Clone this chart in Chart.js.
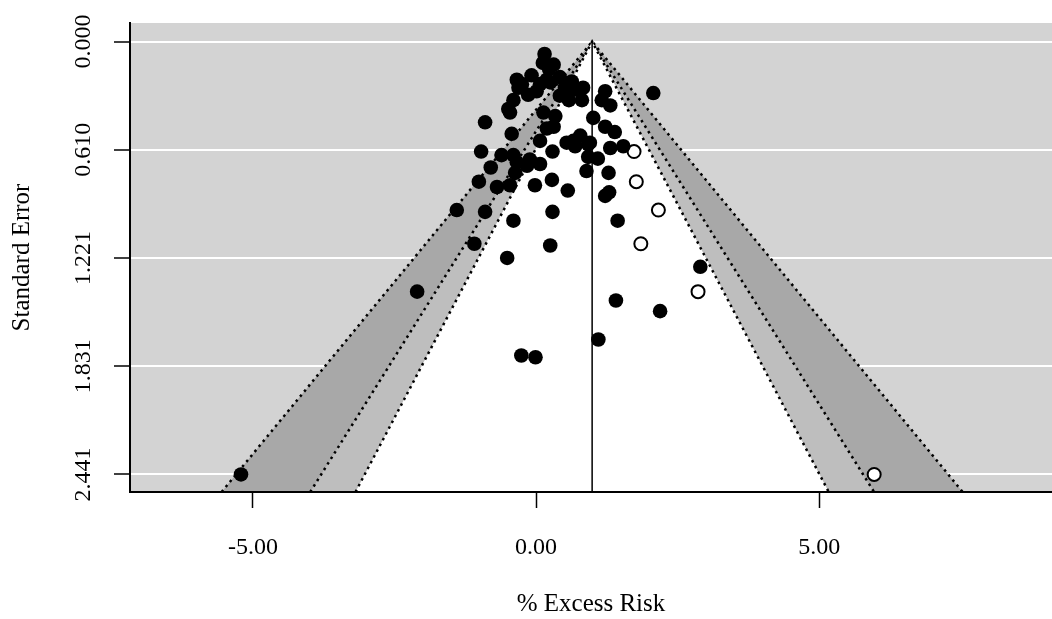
<!DOCTYPE html>
<html>
<head>
<meta charset="utf-8">
<script src="https://cdn.jsdelivr.net/npm/chart.js@4.4.1/dist/chart.umd.min.js"></script>
<style>
  html, body { margin: 0; padding: 0; background: #fff; }
  #wrap { width: 1052px; height: 619px; }
</style>
</head>
<body>
<div id="wrap"><canvas id="funnel" width="1052" height="619"></canvas></div>
<script>
// observed studies: % excess risk and its standard error
const effect = [
  -5.21, -2.10, -1.40, -1.09, -0.90, -0.51, -0.40, 0.29, 0.25, -0.26,
  -0.01, 1.10, 1.41, 2.19, 2.90, 0.56, 1.44, 1.28, 0.89, 1.22,
  1.29, 0.54, 0.95, 1.31, 1.54, 0.92, 1.09, -0.97, -0.61, -0.40,
  -0.80, -1.01, -0.69, -0.46, -0.37, -0.16, 0.07, -0.02, 0.28, 0.29,
  0.69, 0.15, 0.31, 0.42, 0.19, 0.63, 0.83, 0.81, 0.07, 1.22,
  1.16, 1.31, 2.07, 1.01, 1.22, 1.39, 0.31, 0.66, 0.92, 0.07,
  -0.08, -0.34, -0.31, 0.01, 0.25, -0.40, -0.49, -0.46, -0.90, -0.43,
  0.13, 0.34, 0.19, 0.12, 0.23, 0.51, 0.69, -0.25, -0.34, -0.11,
  -0.14, 0.42, 0.58, 0.78
];
const stdErr = [
  2.441, 1.41, 0.95, 1.14, 0.96, 1.22, 1.01, 0.96, 1.15, 1.77,
  1.78, 1.68, 1.46, 1.52, 1.27, 0.84, 1.01, 0.74, 0.73, 0.87,
  0.85, 0.57, 0.57, 0.60, 0.59, 0.65, 0.66, 0.62, 0.64, 0.64,
  0.71, 0.79, 0.82, 0.81, 0.74, 0.70, 0.69, 0.81, 0.78, 0.62,
  0.59, 0.07, 0.13, 0.20, 0.215, 0.225, 0.26, 0.33, 0.24, 0.28,
  0.33, 0.36, 0.29, 0.43, 0.48, 0.51, 0.48, 0.56, 0.58, 0.56,
  0.19, 0.215, 0.26, 0.28, 0.23, 0.33, 0.38, 0.40, 0.455, 0.52,
  0.40, 0.42, 0.49, 0.12, 0.155, 0.26, 0.27, 0.24, 0.68, 0.665,
  0.30, 0.305, 0.33, 0.53
];

// studies imputed by trim and fill
const fillEffect = [5.97, 2.86, 2.16, 1.85, 1.77, 1.73];
const fillSE = [2.441, 1.41, 0.95, 1.14, 0.79, 0.62];

// funnel centre and contour levels (99%, 95%, 90%)
const pooled = 0.99;
const funnelZ = [2.576, 1.96, 1.645];
const funnelShade = ["#a8a8a8", "#bebebe", "#ffffff"];
const seBottom = 2.54;

const xTicks = [-5, 0, 5];
const xTickLabels = ["-5.00", "0.00", "5.00"];
const seTicks = [0, 0.6103, 1.2206, 1.8309, 2.4412];
const seTickLabels = ["0.000", "0.610", "1.221", "1.831", "2.441"];

const serif = "'Liberation Serif', 'Times New Roman', serif";

const datasets = [];

datasets.push({
  data: effect.map((e, i) => ({ x: e, y: stdErr[i] })),
  pointRadius: 7.3,
  pointBackgroundColor: "#000",
  pointBorderColor: "#000",
  pointBorderWidth: 0,
  order: 0
});

datasets.push({
  data: fillEffect.map((e, i) => ({ x: e, y: fillSE[i] })),
  pointRadius: 6.5,
  pointBackgroundColor: "#fff",
  pointBorderColor: "#000",
  pointBorderWidth: 2,
  order: 1
});

// vertical line at the estimate
datasets.push({
  data: [{ x: pooled, y: 0 }, { x: pooled, y: seBottom }],
  showLine: true,
  borderColor: "#000",
  borderWidth: 1.5,
  pointRadius: 0,
  order: 2
});

// shaded funnel regions with dotted edges
funnelZ.forEach((z, i) => {
  const half = z * seBottom;
  datasets.push({
    data: [
      { x: pooled - half, y: seBottom },
      { x: pooled, y: 0 },
      { x: pooled + half, y: seBottom }
    ],
    showLine: true,
    fill: { value: seBottom },
    backgroundColor: funnelShade[i],
    borderColor: "#000",
    borderWidth: 2.5,
    borderDash: [2.5, 4],
    pointRadius: 0,
    tension: 0,
    order: 20 - i
  });
});

const plotBg = {
  id: "plotBg",
  beforeDraw(chart) {
    const { ctx, chartArea: a } = chart;
    ctx.save();
    ctx.fillStyle = "#d3d3d3";
    ctx.fillRect(a.left, a.top, a.right - a.left, a.bottom - a.top);
    ctx.restore();
  }
};

new Chart(document.getElementById("funnel"), {
  type: "scatter",
  data: { datasets },
  plugins: [plotBg],
  options: {
    responsive: false,
    animation: false,
    devicePixelRatio: 1,
    layout: { autoPadding: false, padding: { top: 23, right: 0, left: 0, bottom: 0 } },
    plugins: { legend: { display: false }, tooltip: { enabled: false } },
    scales: {
      x: {
        type: "linear",
        min: -7.17,
        max: 9.11,
        afterBuildTicks: s => { s.ticks = xTicks.map(v => ({ value: v })); },
        afterFit: s => { s.height = 127; },
        grid: { drawOnChartArea: false, tickLength: 16, tickColor: "#000", tickWidth: 1.5 },
        border: { color: "#000", width: 2, z: 1 },
        ticks: {
          color: "#000",
          font: { family: serif, size: 24 },
          padding: 25,
          maxRotation: 0,
          callback: v => xTickLabels[xTicks.indexOf(v)]
        },
        title: {
          display: true,
          text: "% Excess Risk",
          color: "#000",
          font: { family: serif, size: 25 },
          padding: { top: 0, bottom: 0 }
        }
      },
      y: {
        type: "linear",
        reverse: true,
        min: -0.105,
        max: seBottom,
        afterBuildTicks: s => { s.ticks = seTicks.map(v => ({ value: v })); },
        afterFit: s => { s.width = 130; },
        grid: { color: "#fff", lineWidth: 2, tickLength: 16, tickColor: "#000", tickWidth: 1.5 },
        border: { color: "#000", width: 2, z: 1 },
        ticks: {
          color: "#000",
          font: { family: serif, size: 24 },
          padding: 3,
          minRotation: 90,
          maxRotation: 90,
          crossAlign: "center",
          callback: v => seTickLabels[seTicks.indexOf(v)]
        },
        title: {
          display: true,
          text: "Standard Error",
          color: "#000",
          font: { family: serif, size: 25 },
          padding: { top: 7, bottom: 0 }
        }
      }
    }
  }
});
</script>
</body>
</html>
